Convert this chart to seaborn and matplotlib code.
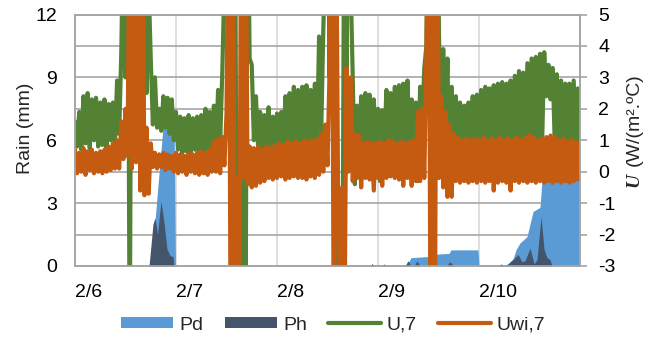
import numpy as np
import pandas as pd
import matplotlib
matplotlib.use("Agg")
import matplotlib.pyplot as plt
import seaborn as sns
from matplotlib.lines import Line2D
from matplotlib.patches import Patch

sns.set_style("white")
plt.rcParams['font.family'] = ['Liberation Sans', 'DejaVu Sans']
plt.rcParams['axes.unicode_minus'] = False

# ---------------- data ----------------
date_labels = ['2/6', '2/7', '2/8', '2/9', '2/10']
rain_ticks = [0, 3, 6, 9, 12]
u_ticks = [-3, -2, -1, 0, 1, 2, 3, 4, 5]

# U,7 (half-hourly readings, W/(m2.C))
u7 = [
    1.6, 0.8, 1.9, 0.7, 2.4, 0.9, 2.5, 0.75, 2.3, 1.0, 2.35, 0.8,
    2.2, 0.85, 2.3, 0.7, 2.15, 1.0, 2.2, 0.9, 2.9, 1.2, 3.8, 8.0,
    3.0, 10, -6, 10, 1.0, 8, 1.5, 8, 2.2, 8, 2.5, 6.0,
    3.6, 1.5, 3.0, 1.4, 2.0, 1.3, 2.4, 1.4, 2.35, 1.2, 2.3, 1.0,
    1.9, 0.7, 1.75, 0.6, 1.7, 0.65, 1.8, 0.6, 1.7, 0.7, 1.75, 0.6,
    1.8, 0.65, 2.0, 0.7, 1.9, 0.6, 2.1, 0.7, 2.6, 0.9, 3.2, 6.0,
    10, 2.0, 10, 1.0, 10, -6, -6, -6, 10, -6, 10, 3.6,
    3.4, 1.0, 2.4, 0.8, 1.9, 0.7, 1.8, 0.75, 2.05, 0.7, 1.75, 0.8,
    1.85, 0.7, 1.9, 0.75, 2.4, 0.8, 2.5, 0.7, 2.7, 0.8, 2.6, 0.75,
    2.7, 0.8, 2.75, 0.85, 2.6, 0.8, 2.8, 0.9, 4.3, 1.2, 4.5, 7.0,
    10, 3.0, 10, 2.0, -6, -6, -6, -6, 10, 3.0, 10, 6.0,
    3.0, -0.4, 2.1, 0.8, 2.4, 0.85, 2.5, 0.8, 2.45, 0.9, 2.3, 0.8,
    2.0, -0.3, 1.95, 0.8, 2.6, 0.85, 2.5, 0.9, 2.7, 0.8, 2.75, 0.85,
    2.8, 0.9, 2.9, 0.8, 2.3, 0.9, 2.2, -0.3, 2.7, 1.5, 3.3, 4.0,
    10, 2.0, 10, 2.0, 10, 4.3, 1.0, 3.9, 0.9, 3.6, -0.5, 2.7,
    0.9, 2.4, 0.85, 2.2, 0.9, 2.1, 0.8, 2.2, 0.9, 2.4, 0.85, 2.45,
    0.9, 2.6, 0.85, 2.7, 0.9, 2.65, 0.8, 2.75, 0.6, 2.8, 0.9, 2.85,
    0.9, 2.8, 0.85, 2.9, 0.9, 3.05, 0.9, 3.2, 0.95, 3.15, 0.9, 3.45,
    0.95, 3.6, 0.9, 3.65, 1.0, 3.75, 0.9, 3.8, 2.4, 3.4, 2.3, 3.3,
    0.9, 3.1, 0.95, 2.9, 0.9, 2.8, 0.85, 2.8, 0.9, 2.9, 0.9, 2.65,
    0.9,
]

# Uwi,7 (half-hourly readings, W/(m2.C))
uwi7 = [
    0.7, -0.05, 0.6, 0.0, 0.75, -0.1, 0.65, 0.05, 0.7, -0.05, 0.6, 0.0,
    0.65, -0.05, 0.7, 0.0, 0.8, 0.05, 0.9, 0.1, 1.0, 0.1, 1.6, 0.4,
    2.0, 0.5, 10, 0.1, 10, 0.3, 10, -0.6, 10, -0.75, 1.4, -0.7,
    0.9, 0.15, 0.6, 0.1, 0.55, 0.15, 0.6, 0.05, 0.55, 0.1, 0.5, 0.0,
    0.6, -0.05, 0.55, 0.0, 0.5, -0.1, 0.6, 0.0, 0.55, -0.05, 0.6, -0.1,
    0.65, -0.05, 0.6, -0.1, 0.7, 0.0, 0.95, 0.0, 1.05, -0.05, 1.1, 0.2,
    1.85, 10, -6, 10, -6, -0.2, -6, 10, -0.2, 10, -0.4, 0.8,
    -0.5, 0.75, -0.45, 0.8, -0.35, 0.7, -0.3, 0.8, -0.2, 0.75, -0.25, 0.85,
    -0.2, 0.9, -0.15, 0.85, -0.25, 0.95, -0.2, 0.9, -0.15, 0.95, -0.2, 0.9,
    -0.2, 1.0, -0.25, 0.95, -0.15, 1.0, -0.2, 1.05, -0.1, 1.2, 0.0, 1.5,
    0.2, 3.3, 10, -6, 10, -0.5, -6, -0.5, -6, 3.3, 0.0, 3.0,
    -0.3, 1.2, -0.2, 1.15, -0.5, 0.9, -0.2, 0.95, -0.25, 0.9, -0.6, 0.9,
    -0.2, 0.95, -0.45, 0.9, -0.2, 1.0, -0.15, 0.95, -0.2, 0.9, -0.25, 0.95,
    -0.45, 0.9, -0.2, 0.95, -0.45, 1.0, -0.3, 1.9, -0.3, 2.0, -0.2, 3.7,
    10, -6, 10, -6, 10, -0.2, 2.4, -0.5, 1.9, -0.8, 1.5, -0.8,
    1.2, -0.3, 1.1, -0.35, 1.0, -0.3, 1.05, -0.35, 1.0, -0.3, 1.05, -0.35,
    1.0, -0.3, 1.1, -0.35, 1.0, -0.3, 1.05, -0.6, 1.0, -0.35, 1.1, -0.3,
    1.0, -0.35, 1.05, -0.6, 1.0, -0.3, 1.1, -0.35, 1.0, -0.3, 1.1, -0.35,
    1.15, -0.3, 1.1, -0.35, 1.0, -0.3, 1.05, -0.35, 1.1, -0.3, 1.15, -0.35,
    1.1, -0.3, 1.0, -0.35, 1.05, -0.3, 0.95, -0.35, 1.0, -0.3, 0.95, -0.25,
    0.9,
]

# reading times in days since 2/6 00:00 (half-hourly)
day = np.arange(len(u7)) / 48.0

# Pd rain (mm)
pd_day = [0.0, 0.733, 0.772, 0.812, 0.842, 0.871, 0.911, 0.950, 0.980, 0.995,
          2.921, 2.941, 3.287, 3.327, 3.495, 3.525, 3.703, 3.723, 3.990, 4.0,
          4.238, 4.287, 4.337, 4.366, 4.406, 4.475, 4.535, 4.604, 4.624, 4.673, 5.0]
pd_mm = [0, 0, 1.0, 3.3, 5.0, 6.6, 7.6, 7.7, 7.5, 0,
         0, 0.05, 0.05, 0.4, 0.45, 0.55, 0.6, 0.77, 0.77, 0,
         0, 0.1, 0.35, 0.77, 1.1, 1.4, 2.6, 2.8, 4.1, 4.2, 4.2]

# Ph rain (mm)
ph_day = [0.0, 0.733, 0.772, 0.792, 0.817, 0.851, 0.881, 0.911, 0.941, 0.970, 0.980,
          2.921, 2.941, 2.960, 3.040, 3.059, 3.079, 3.267, 3.297, 3.327,
          3.356, 3.386, 3.416, 3.673, 3.713, 3.752, 4.188, 4.218, 4.248,
          4.287, 4.337, 4.386, 4.426, 4.455, 4.505, 4.545, 4.574, 4.614,
          4.644, 4.673, 4.703, 4.723, 5.0]
ph_mm = [0, 0, 2.0, 2.3, 1.5, 3.1, 2.1, 0.8, 0.5, 0.45, 0,
         0, 0.12, 0, 0, 0.1, 0, 0, 0.25, 0,
         0, 0.25, 0, 0, 0.2, 0, 0, 0.1, 0,
         0.1, 0.3, 0.55, 0.2, 0.25, 0.85, 0.1, 0.3, 2.35,
         0.8, 0.4, 0.3, 0, 0]

df = pd.DataFrame({'day': day, 'U,7': u7, 'Uwi,7': uwi7})

# ---------------- style ----------------
c_pd = '#5B9BD5'
c_ph = '#44546A'
c_u = '#548235'
c_uwi = '#C55A11'
grid_h = '#A6A6A6'
grid_v = '#D9D9D9'
fs = 14
lw_line = 3.0

fig = plt.figure(figsize=(6.58, 3.40), dpi=100)
ax = fig.add_axes([75 / 658, (340 - 266) / 340, (580 - 75) / 658, (266 - 14.5) / 340])
ax2 = ax.twinx()

# areas (primary axis)
ax.fill_between(pd_day, pd_mm, color=c_pd, lw=0, zorder=2)
ax.fill_between(ph_day, ph_mm, color=c_ph, lw=0, zorder=3)

# lines (secondary axis)
sns.lineplot(data=df, x='day', y='U,7', ax=ax2, color=c_u, lw=lw_line,
             estimator=None, sort=False, legend=False)
sns.lineplot(data=df, x='day', y='Uwi,7', ax=ax2, color=c_uwi, lw=lw_line,
             estimator=None, sort=False, legend=False)

ax.set_xlim(0, 5)
ax.set_ylim(0, 12)
ax2.set_ylim(-3, 5)

ax.set_xticks(range(len(date_labels) + 1))
ax.set_xticklabels(date_labels + [''], ha='left')
ax.set_yticks(rain_ticks)
ax.set_yticklabels([str(v) for v in rain_ticks])
ax.set_yticks([1.5, 4.5, 7.5, 10.5], minor=True)
ax2.set_yticks(u_ticks)
ax2.set_yticklabels([str(v) for v in u_ticks])

ax.set_axisbelow(True)
ax.yaxis.grid(True, which='both', color=grid_h, lw=1.2)
ax.xaxis.grid(True, color=grid_v, lw=1.2)
ax2.grid(False)

ax.tick_params(axis='y', which='both', length=0, pad=13, labelsize=fs, labelcolor='black')
ax.tick_params(axis='x', length=0, pad=13, labelsize=fs, labelcolor='black')
ax2.tick_params(axis='y', length=5, width=1.2, color=grid_h, pad=8, labelsize=fs,
                labelcolor='black')

for a in (ax, ax2):
    a.set_xlabel('')
    a.set_ylabel('')
    for s in a.spines.values():
        s.set_color(grid_h)
        s.set_linewidth(1.2)
ax2.patch.set_visible(False)

# axis titles
fig.text(25 / 658, 1 - 128.5 / 340, 'Rain (mm)', rotation=90, ha='center', va='center',
         fontsize=fs)
fig.text(634 / 658, 1 - 187 / 340, 'U', rotation=90, ha='center', va='bottom',
         fontsize=fs, family='Liberation Serif', weight='bold', style='italic')
fig.text(634 / 658, 1 - 166 / 340, '(W/(m\u00b2.\u00baC)', rotation=90, ha='center',
         va='bottom', fontsize=fs)

handles = [Patch(facecolor=c_pd, edgecolor='none'),
           Patch(facecolor=c_ph, edgecolor='none'),
           Line2D([], [], color=c_u, lw=3),
           Line2D([], [], color=c_uwi, lw=3)]
labels = ['Pd', 'Ph', 'U,7', 'Uwi,7']
fig.legend(handles, labels, loc='center', bbox_to_anchor=(333 / 658, 1 - 325 / 340),
           ncol=4, frameon=False, fontsize=fs, handlelength=2.7, handleheight=0.5,
           handletextpad=0.3, columnspacing=1.1)

fig.savefig('out.png', dpi=100)
